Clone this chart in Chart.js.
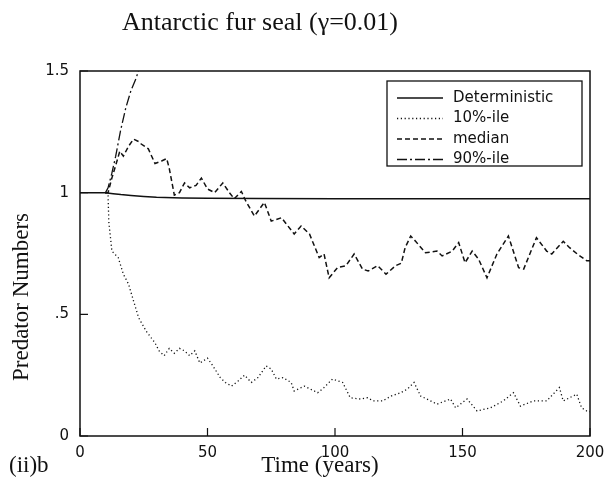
<!DOCTYPE html>
<html><head><meta charset="utf-8">
<script src="https://cdn.jsdelivr.net/npm/chart.js@4.4.1/dist/chart.umd.min.js"></script>
<style>html,body{margin:0;padding:0;background:#fff}#wrap{width:614px;height:493px;position:relative}</style>
</head><body><div id="wrap"><canvas id="c" width="614" height="493"></canvas></div>
<script>
// ---- data ----
const seriesLabels = ['Deterministic', '10%-ile', 'median', '90%-ile'];

const detT = [0, 10, 13, 16, 20, 25, 30, 40, 50, 70, 100, 150, 200];
const detV = [1.0, 1.0, 0.996, 0.992, 0.988, 0.984, 0.981, 0.978, 0.977, 0.976, 0.975, 0.975, 0.975];

const p10T = [10, 11, 11.3, 12.5, 15, 17, 19, 21, 23, 26, 29.4, 31, 33, 35, 37, 39, 41, 43, 45, 47, 50, 52, 55, 57, 59.4, 62, 64.5, 67.2, 69.8, 73, 75, 77, 79.6, 82.8, 84, 88, 93.2, 95.7, 99, 103, 106, 110, 112.8, 115, 118.6, 122, 125.8, 128.4, 131, 133.6, 136, 140, 145.3, 147.3, 151.8, 155.7, 161, 166, 170, 172.7, 177.8, 183, 188, 189.5, 194.8, 196.7, 198.7, 200];
const p10V = [1.0, 0.99, 0.88, 0.76, 0.733, 0.665, 0.625, 0.555, 0.486, 0.43, 0.383, 0.35, 0.33, 0.36, 0.34, 0.36, 0.35, 0.33, 0.35, 0.30, 0.32, 0.29, 0.24, 0.22, 0.205, 0.226, 0.25, 0.22, 0.24, 0.288, 0.275, 0.234, 0.24, 0.22, 0.185, 0.205, 0.178, 0.199, 0.234, 0.22, 0.157, 0.152, 0.157, 0.144, 0.144, 0.164, 0.178, 0.193, 0.22, 0.164, 0.152, 0.131, 0.152, 0.116, 0.152, 0.103, 0.116, 0.144, 0.178, 0.123, 0.144, 0.144, 0.199, 0.144, 0.172, 0.116, 0.103, 0.10];

const medT = [10, 11, 12.5, 14.5, 15.6, 17, 19, 21, 23, 24, 26.8, 29.4, 32, 34, 35, 37, 39, 41, 43, 45.5, 47.6, 50, 52.8, 56, 58.6, 60.5, 63.3, 65, 68.4, 72.3, 75, 79, 84, 86.7, 90, 93.8, 95.7, 97.7, 101, 104.3, 107.5, 110.8, 113, 116.7, 120, 123.8, 126, 127.5, 129.7, 131.6, 135.5, 140, 142, 146, 148.5, 151, 153.8, 156.3, 159.6, 163.5, 168, 172, 174, 179, 183, 185, 189.5, 192, 195, 198.7, 200];
const medV = [1.0, 1.0, 1.06, 1.13, 1.17, 1.15, 1.19, 1.22, 1.21, 1.20, 1.18, 1.12, 1.13, 1.14, 1.10, 0.99, 1.0, 1.04, 1.02, 1.03, 1.06, 1.015, 1.0, 1.04, 1.0, 0.975, 1.005, 0.966, 0.904, 0.96, 0.883, 0.897, 0.83, 0.863, 0.83, 0.733, 0.748, 0.65, 0.692, 0.70, 0.748, 0.686, 0.678, 0.70, 0.665, 0.70, 0.71, 0.774, 0.822, 0.80, 0.753, 0.76, 0.74, 0.76, 0.795, 0.712, 0.76, 0.727, 0.65, 0.748, 0.822, 0.692, 0.686, 0.815, 0.76, 0.748, 0.80, 0.774, 0.748, 0.72, 0.72];

const p90T = [10, 11, 12.5, 14, 16, 18, 20, 22, 23.5];
const p90V = [1.0, 1.02, 1.08, 1.15, 1.26, 1.35, 1.42, 1.47, 1.52];

const xTicks = [0, 50, 100, 150, 200];
const yTicks = [0, 0.5, 1, 1.5];
const yTickLabels = ['0', '.5', '1', '1.5'];

const titleText = 'Antarctic fur seal (\u03B3=0.01)';
const xTitle = 'Time (years)';
const yTitle = 'Predator Numbers';
const panelTag = '(ii)b';

// ---- build ----
const pts = (T, V) => T.map((t, i) => ({x: t, y: V[i]}));
const INK = '#111';
const dashes = [[], [1.2, 2.6], [5, 3], [10, 3, 2, 3]];
const widths = [1.5, 1.3, 1.5, 1.3];
const seriesData = [pts(detT, detV), pts(p10T, p10V), pts(medT, medV), pts(p90T, p90V)];

const datasets = seriesLabels.map((lab, i) => ({
  label: lab,
  data: seriesData[i],
  borderColor: INK,
  borderWidth: widths[i],
  borderDash: dashes[i],
  pointRadius: 0,
  tension: 0,
  fill: false,
  clip: 0
}));

const decor = {
  id: 'decor',
  afterDraw(chart) {
    const ctx = chart.ctx, a = chart.chartArea;
    const xs = chart.scales.x, ys = chart.scales.y;
    ctx.save();
    ctx.strokeStyle = INK; ctx.fillStyle = INK;
    ctx.lineWidth = 1.5; ctx.setLineDash([]);
    ctx.strokeRect(a.left, a.top, a.right - a.left, a.bottom - a.top);
    // inward ticks
    ctx.lineWidth = 1.2;
    ctx.beginPath();
    xTicks.forEach(v => { const p = xs.getPixelForValue(v); ctx.moveTo(p, a.bottom); ctx.lineTo(p, a.bottom - 8); });
    yTicks.forEach(v => { const p = ys.getPixelForValue(v); ctx.moveTo(a.left, p); ctx.lineTo(a.left + 8, p); });
    ctx.stroke();
    // legend
    const L = 387, T = 81, R = 582, B = 166;
    ctx.lineWidth = 1.3;
    ctx.strokeRect(L, T, R - L, B - T);
    ctx.font = '15px "DejaVu Sans"';
    ctx.textBaseline = 'middle'; ctx.textAlign = 'left';
    chart.data.datasets.forEach((ds, i) => {
      const y = 98 + i * 20.5;
      ctx.setLineDash(ds.borderDash); ctx.lineWidth = ds.borderWidth;
      ctx.beginPath(); ctx.moveTo(397, y); ctx.lineTo(443, y); ctx.stroke();
      ctx.setLineDash([]);
      ctx.fillText(ds.label, 453, y);
    });
    // titles
    ctx.font = '26px "Liberation Serif"';
    ctx.textAlign = 'center';
    ctx.fillText(titleText, 260, 23);
    ctx.font = '23px "Liberation Serif"';
    ctx.fillText(xTitle, 320, 466);
    ctx.textAlign = 'left';
    ctx.fillText(panelTag, 9, 466);
    ctx.save();
    ctx.translate(22, 297); ctx.rotate(-Math.PI / 2);
    ctx.textAlign = 'center';
    ctx.fillText(yTitle, 0, 0);
    ctx.restore();
    ctx.restore();
  }
};

new Chart(document.getElementById('c'), {
  type: 'line',
  data: { datasets },
  options: {
    responsive: false,
    devicePixelRatio: 1,
    animation: false,
    layout: { padding: { left: 0, top: 71, right: 24, bottom: 0 } },
    plugins: { legend: { display: false }, title: { display: false }, tooltip: { enabled: false } },
    scales: {
      x: {
        type: 'linear', min: 0, max: 200,
        afterBuildTicks: s => { s.ticks = xTicks.map(v => ({ value: v })); },
        afterFit: s => { s.height = 57; },
        grid: { display: false, drawTicks: false },
        border: { display: false },
        ticks: { padding: 8, color: INK, font: { family: 'DejaVu Sans', size: 15 }, maxRotation: 0 }
      },
      y: {
        type: 'linear', min: 0, max: 1.5,
        afterBuildTicks: s => { s.ticks = yTicks.map(v => ({ value: v })); },
        afterFit: s => { s.width = 80; },
        grid: { display: false, drawTicks: false },
        border: { display: false },
        ticks: { padding: 11, color: INK, font: { family: 'DejaVu Sans', size: 15 },
                 callback: (v) => { const k = yTicks.indexOf(v); return k >= 0 ? yTickLabels[k] : ''; } }
      }
    }
  },
  plugins: [decor]
});
</script>
</body></html>
